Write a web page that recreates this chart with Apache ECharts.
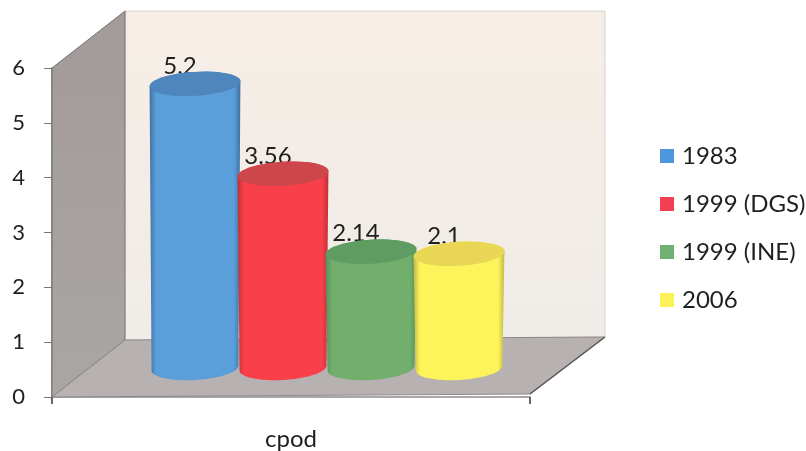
<!DOCTYPE html>
<html>
<head>
<meta charset="utf-8">
<style>html,body{margin:0;padding:0;background:#fff}#chart{width:806px;height:451px}</style>
<script src="https://cdn.jsdelivr.net/npm/echarts@6/dist/echarts.min.js"></script>
</head>
<body>
<div id="chart"></div>
<script>
// Per-survey values for the single "cpod" category.
const categories = ['cpod'];
const seriesNames = ['1983', '1999 (DGS)', '1999 (INE)', '2006'];
const seriesValues = [5.2, 3.56, 2.14, 2.1];
const valueTicks = [0, 1, 2, 3, 4, 5, 6];

const palettes = [
  { swatch: '#4f97dc', edge: '#41709f', mid: '#5a9fda', cap: '#4f86bc' },
  { swatch: '#f23f52', edge: '#bd3038', mid: '#f9404a', cap: '#cc464c' },
  { swatch: '#70b070', edge: '#56905c', mid: '#72ae6c', cap: '#5f9c62' },
  { swatch: '#fbf25a', edge: '#c2b846', mid: '#fdf45c', cap: '#e8d654' }
];

// Projection of the chart box: how far the back plane sits from the front plane.
const DEPTH = [73, -57];
const SLOT = 88;
const TILT = -3.5 * Math.PI / 180;
const FONT = 'Lato, "Open Sans", sans-serif';

function ellipseArc(cx, cy, rx, ry, from, to, steps) {
  const pts = [];
  for (let i = 0; i <= steps; i++) {
    const t = from + (to - from) * i / steps;
    const ex = rx * Math.cos(t), ey = ry * Math.sin(t);
    pts.push([
      cx + ex * Math.cos(TILT) - ey * Math.sin(TILT),
      cy + ex * Math.sin(TILT) + ey * Math.cos(TILT)
    ]);
  }
  return pts;
}

function renderBox(params, api) {
  const o = api.coord([0, 0]);
  const top = api.coord([0, 6]);
  const w = api.size([1, 0])[0];
  const x0 = o[0] - w / 2, x1 = o[0] + w / 2;
  const y0 = o[1], y6 = top[1];
  const dx = DEPTH[0], dy = DEPTH[1];
  const back = [[x0 + dx, y6 + dy], [x1 + dx + 2, y6 + dy], [x1 + dx + 2, y0 + dy - 3], [x0 + dx, y0 + dy]];
  const side = [[x0, y6], [x0 + dx, y6 + dy], [x0 + dx, y0 + dy], [x0, y0]];
  const floor = [[x0, y0], [x0 + dx, y0 + dy], [x1 + dx + 2, y0 + dy - 3], [x1, y0 - 3]];
  return {
    type: 'group',
    children: [
      { type: 'polygon', shape: { points: back }, style: {
        fill: { type: 'linear', x: 0, y: 0, x2: 0, y2: 1, colorStops: [
          { offset: 0, color: '#f6eee6' }, { offset: 0.75, color: '#f2ece7' }, { offset: 1, color: '#efede8' }
        ] }, stroke: '#d9d3cd', lineWidth: 1 } },
      { type: 'polygon', shape: { points: side }, style: {
        fill: { type: 'linear', x: 0, y: 0, x2: 0, y2: 1, colorStops: [
          { offset: 0, color: '#a39a9a' }, { offset: 1, color: '#a9a6a4' }
        ] }, stroke: '#77726f', lineWidth: 1 } },
      { type: 'polygon', shape: { points: floor }, style: { fill: '#b7b1b1', stroke: '#8e8a88', lineWidth: 1 } },
      { type: 'line', shape: { x1: x1, y1: y0 - 3, x2: x1 + dx + 2, y2: y0 + dy - 3 }, style: { stroke: '#5a5654', lineWidth: 1.5 } }
    ]
  };
}

function renderCylinder(idx) {
  return function (params, api) {
    const value = api.value(1);
    const base = api.coord([0, 0]);
    const head = api.coord([0, value]);
    const cx = base[0] + DEPTH[0] / 2 - 0.5 + (idx - 1.5) * SLOT;
    const baseY = base[1] + DEPTH[1] / 2 - 0.5;
    const topY = head[1] + DEPTH[1] / 2 + 0.5;
    const p = palettes[idx];
    const rxTop = 45.5, rxBottom = 43.5, ry = 12;
    const upper = ellipseArc(cx, topY, rxTop, ry, Math.PI, 2 * Math.PI, 24);
    const lower = ellipseArc(cx, baseY, rxBottom, ry, 0, Math.PI, 24);
    return {
      type: 'group',
      children: [
        { type: 'text', style: {
          x: cx - 15, y: topY - 18, text: String(value), align: 'center', verticalAlign: 'middle',
          font: '24px ' + FONT, fill: '#1f1f1f' } },
        { type: 'polygon', shape: { points: upper.concat(lower) }, style: {
          fill: { type: 'linear', x: 0, y: 0, x2: 1, y2: 0, colorStops: [
            { offset: 0, color: p.edge }, { offset: 0.07, color: p.mid },
            { offset: 0.93, color: p.mid }, { offset: 1, color: p.edge }
          ] } } },
        { type: 'polygon', shape: { points: ellipseArc(cx, topY, rxTop, ry, 0, 2 * Math.PI, 48) }, style: { fill: p.cap } }
      ]
    };
  };
}

const chart = echarts.init(document.getElementById('chart'), null, { renderer: 'canvas' });
const textColor = '#1f1f1f';
const bars = seriesNames.map((name, i) => ({
  type: 'custom',
  name: name,
  coordinateSystem: 'cartesian2d',
  z: 3 + i,
  silent: true,
  itemStyle: { color: palettes[i].swatch },
  encode: { x: 0, y: 1 },
  data: [[0, seriesValues[i]]],
  renderItem: renderCylinder(i)
}));

chart.setOption({
  animation: false,
  backgroundColor: '#ffffff',
  grid: { left: 52, top: 68, width: 478, height: 330, containLabel: false },
  legend: {
    orient: 'vertical', left: 655, top: 139, itemWidth: 14, itemHeight: 14, itemGap: 24,
    icon: 'rect', selectedMode: false,
    textStyle: { fontFamily: FONT, fontSize: 24, color: textColor, padding: [0, 0, 0, 3], lineHeight: 22 },
    data: seriesNames
  },
  xAxis: {
    type: 'category', data: categories,
    axisLine: { lineStyle: { color: '#8f8b89', width: 1.5 } },
    axisTick: { show: true, alignWithLabel: false, length: 7, lineStyle: { color: '#333333', width: 1.5 } },
    axisLabel: { color: textColor, fontFamily: FONT, fontSize: 24, margin: 30 },
    splitLine: { show: false }
  },
  yAxis: {
    type: 'value', min: valueTicks[0], max: valueTicks[valueTicks.length - 1], interval: 1,
    axisLine: { show: true, lineStyle: { color: '#6c6866', width: 1.5 } },
    axisTick: { show: true, length: 8, lineStyle: { color: '#777777' } },
    axisLabel: { color: textColor, fontFamily: FONT, fontSize: 22, margin: 27 },
    splitLine: { show: false }
  },
  series: [{
    type: 'custom', name: 'box', coordinateSystem: 'cartesian2d', z: 1, silent: true,
    data: [[0, 0]], encode: { x: 0, y: 1 }, renderItem: renderBox
  }].concat(bars)
});
</script>
</body>
</html>
